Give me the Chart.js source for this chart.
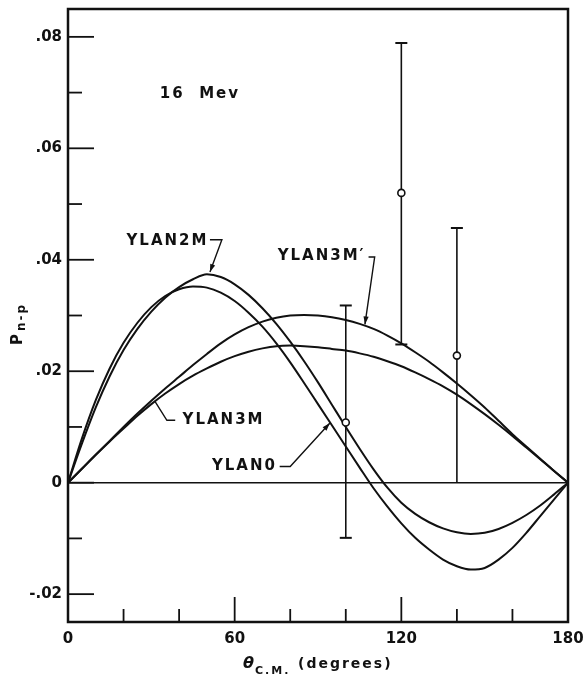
<!DOCTYPE html>
<html>
<head>
<meta charset="utf-8">
<script src="https://cdn.jsdelivr.net/npm/chart.js@4.4.1/dist/chart.umd.min.js"></script>
<style>
  html, body { margin: 0; padding: 0; background: #fff; }
  #wrap { width: 587px; height: 677px; position: relative; }
</style>
</head>
<body>
<div id="wrap"><canvas id="myChart"></canvas></div>
<script>
// theta (degrees) for the theory curves
const angles = [0, 5, 10, 15, 20, 25, 30, 35, 40, 45, 50, 55, 60, 65, 70, 75, 80, 85, 90,
    95, 100, 105, 110, 115, 120, 125, 130, 135, 140, 145, 150, 155, 160, 165, 170, 175, 180];

const ylan0 = [0, 0.0079, 0.0148, 0.0205, 0.0251, 0.0287, 0.0315, 0.0335, 0.0347, 0.0352,
    0.0350, 0.0341, 0.0326, 0.0305, 0.0280, 0.0250, 0.0216, 0.0179, 0.0141, 0.0103, 0.0065,
    0.0027, -0.0010, -0.0043, -0.0073, -0.0099, -0.0120, -0.0138, -0.0150, -0.0156, -0.0153,
    -0.0138, -0.0117, -0.0090, -0.0060, -0.0030, 0];

const ylan2m = [0, 0.0070, 0.0135, 0.0191, 0.0238, 0.0276, 0.0307, 0.0332, 0.0351, 0.0365,
    0.0374, 0.0369, 0.0356, 0.0337, 0.0313, 0.0285, 0.0253, 0.0218, 0.0180, 0.0140, 0.0100,
    0.0061, 0.0024, -0.0009, -0.0036, -0.0056, -0.0071, -0.0082, -0.0089, -0.0092, -0.0090,
    -0.0083, -0.0072, -0.0058, -0.0041, -0.0021, 0];

const ylan3mp = [0, 0.0025, 0.0050, 0.0075, 0.0100, 0.0124, 0.0147, 0.0169, 0.0190, 0.0211,
    0.0231, 0.0250, 0.0266, 0.0279, 0.0289, 0.0296, 0.0300, 0.0301, 0.0300, 0.0297, 0.0292,
    0.0285, 0.0276, 0.0264, 0.0250, 0.0234, 0.0217, 0.0198, 0.0178, 0.0157, 0.0135, 0.0111,
    0.0087, 0.0065, 0.0043, 0.0021, 0];

const ylan3m = [0, 0.0025, 0.0050, 0.0074, 0.0097, 0.0120, 0.0141, 0.0160, 0.0177, 0.0192,
    0.0205, 0.0217, 0.0227, 0.0235, 0.0241, 0.0245, 0.0246, 0.0245, 0.0243, 0.0240, 0.0237,
    0.0232, 0.0226, 0.0218, 0.0209, 0.0198, 0.0186, 0.0173, 0.0158, 0.0141, 0.0123, 0.0104,
    0.0084, 0.0063, 0.0042, 0.0021, 0];

// measured points with error bars
const dataAngles = [100, 120, 140];
const dataValues = [0.0108, 0.0520, 0.0228];
const errLow = [-0.0099, 0.0248, 0.0];
const errHigh = [0.0318, 0.0789, 0.0457];

const xTickValues = [0, 20, 40, 60, 80, 100, 120, 140, 160, 180];
const yTickValues = [-0.02, -0.01, 0, 0.01, 0.02, 0.03, 0.04, 0.05, 0.06, 0.07, 0.08];
const xLabelValues = [0, 60, 120, 180];
const yLabelValues = [-0.02, 0, 0.02, 0.04, 0.06, 0.08];

const ink = '#111';
const fontName = '"DejaVu Sans", sans-serif';

function toPts(ys) {
    return angles.map((a, i) => ({ x: a, y: ys[i] }));
}

function curve(label, ys) {
    return {
        label: label, data: toPts(ys), borderColor: ink, borderWidth: 2,
        pointRadius: 0, cubicInterpolationMode: 'monotone', fill: false
    };
}

const errorBars = dataAngles.map((a, i) => ({
    label: 'err ' + a,
    data: [{ x: a, y: errLow[i] }, { x: a, y: errHigh[i] }],
    borderColor: ink, borderWidth: 1.6,
    pointStyle: 'line', pointRadius: [errLow[i] === 0 ? 0 : 6, 6],
    pointBorderColor: ink, pointBorderWidth: 2
}));

// text labels on the plot, placed in data units
const notes = [
    { text: '16  Mev', x: 47.5, y: 0.0698 },
    { text: 'YLAN2M', x: 35.8, y: 0.0434, path: [[51.1, 0.0436], [55.4, 0.0436], [51.1, 0.0378]], arrow: true },
    { text: 'YLAN3M\u2032', x: 91.3, y: 0.0407, path: [[108.2, 0.0405], [110.4, 0.0405], [106.9, 0.0284]], arrow: true },
    { text: 'YLAN3M', x: 56.0, y: 0.0112, path: [[38.6, 0.0112], [35.6, 0.0112], [31.3, 0.0146]], arrow: false },
    { text: 'YLAN0', x: 63.5, y: 0.0029, path: [[76.2, 0.0029], [80.0, 0.0029], [94.3, 0.0107]], arrow: true }
];

function arrowHead(ctx, x0, y0, x1, y1) {
    const ang = Math.atan2(y1 - y0, x1 - x0);
    const len = 8, half = 2.6;
    ctx.beginPath();
    ctx.moveTo(x1, y1);
    ctx.lineTo(x1 - len * Math.cos(ang) + half * Math.sin(ang), y1 - len * Math.sin(ang) - half * Math.cos(ang));
    ctx.lineTo(x1 - len * Math.cos(ang) - half * Math.sin(ang), y1 - len * Math.sin(ang) + half * Math.cos(ang));
    ctx.closePath();
    ctx.fill();
}

const decorPlugin = {
    id: 'decor',
    afterDatasetsDraw(chart) {
        const ctx = chart.ctx;
        const area = chart.chartArea;
        const xs = chart.scales.x, ys = chart.scales.y;
        ctx.save();
        ctx.strokeStyle = ink;
        ctx.fillStyle = ink;

        // frame
        ctx.lineWidth = 2.5;
        ctx.strokeRect(area.left, area.top, area.right - area.left, area.bottom - area.top);

        // inward tick marks
        ctx.lineWidth = 1.8;
        xs.ticks.forEach(t => {
            const v = t.value;
            if (v <= 0 || v >= 180) return;
            const px = xs.getPixelForValue(v);
            const len = v % 60 === 0 ? 25 : 13;
            ctx.beginPath();
            ctx.moveTo(px, area.bottom);
            ctx.lineTo(px, area.bottom - len);
            ctx.stroke();
        });
        ys.ticks.forEach(t => {
            const k = Math.round(t.value * 100);
            const py = ys.getPixelForValue(t.value);
            const len = k % 2 === 0 ? 26 : 14;
            ctx.beginPath();
            ctx.moveTo(area.left, py);
            ctx.lineTo(area.left + len, py);
            ctx.stroke();
        });

        // labels with leader lines
        ctx.font = 'bold 15px ' + fontName;
        ctx.letterSpacing = '2px';
        ctx.textAlign = 'center';
        ctx.textBaseline = 'middle';
        ctx.lineWidth = 1.4;
        notes.forEach(n => {
            ctx.fillText(n.text, xs.getPixelForValue(n.x), ys.getPixelForValue(n.y));
            if (!n.path) return;
            const pts = n.path.map(p => [xs.getPixelForValue(p[0]), ys.getPixelForValue(p[1])]);
            ctx.beginPath();
            pts.forEach((p, i) => i ? ctx.lineTo(p[0], p[1]) : ctx.moveTo(p[0], p[1]));
            ctx.stroke();
            if (n.arrow) {
                const a = pts[pts.length - 2], b = pts[pts.length - 1];
                arrowHead(ctx, a[0], a[1], b[0], b[1]);
            }
        });

        // y axis title: P with subscript n-p
        ctx.textAlign = 'left';
        ctx.textBaseline = 'alphabetic';
        ctx.save();
        ctx.translate(22, 345);
        ctx.rotate(-Math.PI / 2);
        ctx.letterSpacing = '0px';
        ctx.font = 'bold 15px ' + fontName;
        ctx.fillText('P', 0, 0);
        const pw = ctx.measureText('P').width;
        ctx.letterSpacing = '2px';
        ctx.font = 'bold 12px ' + fontName;
        ctx.fillText('n-p', pw + 3, 3);
        ctx.restore();

        // x axis title
        const base = 668;
        let x0 = 243;
        ctx.letterSpacing = '0px';
        ctx.font = 'italic bold 16px ' + fontName;
        ctx.fillText('\u03b8', x0, base);
        x0 += ctx.measureText('\u03b8').width + 1;
        ctx.letterSpacing = '2px';
        ctx.font = 'bold 11px ' + fontName;
        ctx.fillText('C.M.', x0, base + 6);
        ctx.font = 'bold 14px ' + fontName;
        ctx.fillText('(degrees)', 298, base);
        ctx.restore();
    }
};

const ctx = document.getElementById('myChart').getContext('2d');
const myChart = new Chart(ctx, {
    type: 'line',
    data: {
        datasets: [
            {
                label: 'data',
                data: dataAngles.map((a, i) => ({ x: a, y: dataValues[i] })),
                showLine: false, pointStyle: 'circle', pointRadius: 3.5,
                pointBackgroundColor: '#fff', pointBorderColor: ink, pointBorderWidth: 1.6
            },
            ...errorBars,
            curve('YLAN0', ylan0),
            curve('YLAN2M', ylan2m),
            curve('YLAN3M\u2032', ylan3mp),
            curve('YLAN3M', ylan3m),
            {
                label: 'zero', data: [{ x: 0, y: 0 }, { x: 180, y: 0 }],
                borderColor: ink, borderWidth: 1.5, pointRadius: 0
            }
        ]
    },
    options: {
        responsive: true,
        maintainAspectRatio: false,
        animation: false,
        layout: { padding: { left: 0, right: 19, top: 9, bottom: 0 } },
        plugins: {
            legend: { display: false },
            tooltip: { enabled: false }
        },
        scales: {
            x: {
                type: 'linear', min: 0, max: 180,
                grid: { display: false, drawTicks: false },
                border: { display: false },
                afterBuildTicks: s => { s.ticks = xTickValues.map(v => ({ value: v })); },
                ticks: {
                    autoSkip: false, maxRotation: 0, padding: 8, color: ink,
                    font: { family: fontName, size: 15, weight: 'bold' },
                    callback: v => xLabelValues.includes(v) ? String(v) : ''
                },
                afterFit: s => { s.height = 55; s.paddingLeft = 0; s.paddingRight = 0; }
            },
            y: {
                type: 'linear', min: -0.025, max: 0.085,
                grid: { display: false, drawTicks: false },
                border: { display: false },
                afterBuildTicks: s => { s.ticks = yTickValues.map(v => ({ value: v })); },
                ticks: {
                    autoSkip: false, padding: 6, color: ink,
                    font: { family: fontName, size: 15, weight: 'bold' },
                    callback: v => {
                        if (!yLabelValues.some(l => Math.abs(l - v) < 1e-9)) return '';
                        const k = Math.round(v * 100);
                        if (k === 0) return '0';
                        return (k < 0 ? '-' : '') + '.' + String(Math.abs(k)).padStart(2, '0');
                    }
                },
                afterFit: s => { s.width = 68; s.paddingTop = 0; s.paddingBottom = 0; }
            }
        }
    },
    plugins: [decorPlugin]
});
</script>
</body>
</html>
